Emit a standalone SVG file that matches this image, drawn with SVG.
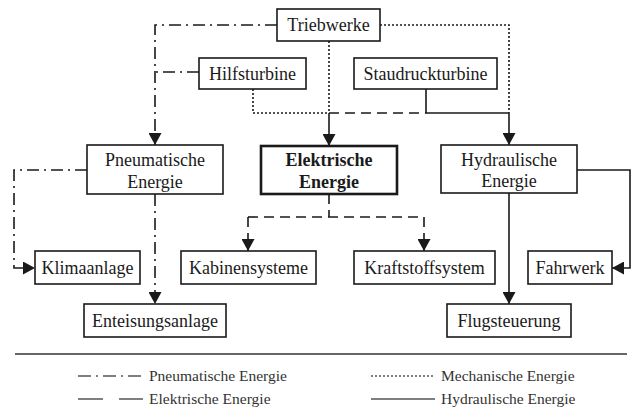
<svg xmlns="http://www.w3.org/2000/svg" width="633" height="407" viewBox="0 0 633 407">
<defs>
<marker id="ah" markerUnits="userSpaceOnUse" markerWidth="13" markerHeight="13" refX="12" refY="6.5" orient="auto">
<path d="M0,0 L12,6.5 L0,13 z" fill="#1a1a1a"/>
</marker>
</defs>
<style>
.box{fill:#fff;stroke:#1a1a1a;stroke-width:1.6}
.bold{stroke-width:2.6}
.t{font-family:"Liberation Serif","Times New Roman",serif;font-size:18px;fill:#1a1a1a;text-anchor:middle}
.tb{font-weight:bold}
.ln{fill:none;stroke:#1a1a1a;stroke-width:1.6}
.pn{stroke-dasharray:12 5 2 5}
.el{stroke-dasharray:10 6}
.me{stroke-dasharray:2 2}
.lg{font-family:"Liberation Serif","Times New Roman",serif;font-size:15.5px;fill:#333}
.ll{fill:none;stroke:#555;stroke-width:1.6}
</style>
<rect width="633" height="407" fill="#fff"/>
<g id="connectors">
<!-- pneumatic -->
<path class="ln pn" d="M277,25 H155 V145" marker-end="url(#ah)"/>
<path class="ln pn" d="M199,72 H155"/>
<path class="ln pn" d="M87,170 H14 V268 H35" marker-end="url(#ah)"/>
<path class="ln pn" d="M155,194 V304" marker-end="url(#ah)"/>
<!-- mechanical -->
<path class="ln me" d="M329,41 V113"/>
<path class="ln me" d="M253,89 V113 H329"/>
<path class="ln me" d="M380,25 H509 V113"/>
<!-- electric -->
<path class="ln el" d="M329,113 H426"/>
<path class="ln" d="M329,113 V146" marker-end="url(#ah)"/>
<path class="ln el" d="M329,194 V217"/>
<path class="ln el" d="M248,217 H424"/>
<path class="ln el" d="M248,217 V251" marker-end="url(#ah)"/>
<path class="ln el" d="M424,217 V251" marker-end="url(#ah)"/>
<!-- hydraulic -->
<path class="ln" d="M426,89 V113 H509"/>
<path class="ln" d="M509,113 V145" marker-end="url(#ah)"/>
<path class="ln" d="M577,170 H630 V268 H612" marker-end="url(#ah)"/>
<path class="ln" d="M509,193 V304" marker-end="url(#ah)"/>
</g>
<g id="triebwerke"><rect class="box" x="277" y="9" width="103" height="32"/><text class="t" x="328.5" y="31">Triebwerke</text></g>
<g id="hilfsturbine"><rect class="box" x="199" y="58" width="107" height="31"/><text class="t" x="252.5" y="80">Hilfsturbine</text></g>
<g id="staudruckturbine"><rect class="box" x="354" y="58" width="143" height="31"/><text class="t" x="425.5" y="80">Staudruckturbine</text></g>
<g id="pneumatische"><rect class="box" x="87" y="145" width="136" height="49"/><text class="t" x="155" y="166">Pneumatische</text><text class="t" x="155" y="188">Energie</text></g>
<g id="elektrische"><rect class="box bold" x="261" y="146" width="136" height="48"/><text class="t tb" x="329" y="166">Elektrische</text><text class="t tb" x="329" y="188">Energie</text></g>
<g id="hydraulische"><rect class="box" x="441" y="145" width="136" height="48"/><text class="t" x="509" y="166">Hydraulische</text><text class="t" x="509" y="187">Energie</text></g>
<g id="klimaanlage"><rect class="box" x="35" y="251" width="105" height="33"/><text class="t" x="87.5" y="274">Klimaanlage</text></g>
<g id="kabinensysteme"><rect class="box" x="181" y="251" width="135" height="33"/><text class="t" x="248.5" y="274">Kabinensysteme</text></g>
<g id="kraftstoffsystem"><rect class="box" x="354" y="251" width="141" height="33"/><text class="t" x="424.5" y="274">Kraftstoffsystem</text></g>
<g id="fahrwerk"><rect class="box" x="528" y="251" width="84" height="33"/><text class="t" x="570" y="274">Fahrwerk</text></g>
<g id="enteisungsanlage"><rect class="box" x="84" y="304" width="142" height="33"/><text class="t" x="155" y="327">Enteisungsanlage</text></g>
<g id="flugsteuerung"><rect class="box" x="447" y="304" width="124" height="33"/><text class="t" x="509" y="327">Flugsteuerung</text></g>
<g id="legend">
<line x1="15" y1="354" x2="627" y2="354" stroke="#666" stroke-width="2"/>
<line class="ll" x1="78" y1="376" x2="143" y2="376" stroke-dasharray="13 5 2 5"/>
<text class="lg" x="149" y="381">Pneumatische Energie</text>
<line class="ll" x1="78" y1="399" x2="143" y2="399" stroke-dasharray="25 16"/>
<text class="lg" x="149" y="404">Elektrische Energie</text>
<line class="ll" x1="371" y1="376" x2="435" y2="376" stroke-dasharray="2 2"/>
<text class="lg" x="441" y="381">Mechanische Energie</text>
<line class="ll" x1="371" y1="399" x2="435" y2="399"/>
<text class="lg" x="441" y="404">Hydraulische Energie</text>
</g>
</svg>
